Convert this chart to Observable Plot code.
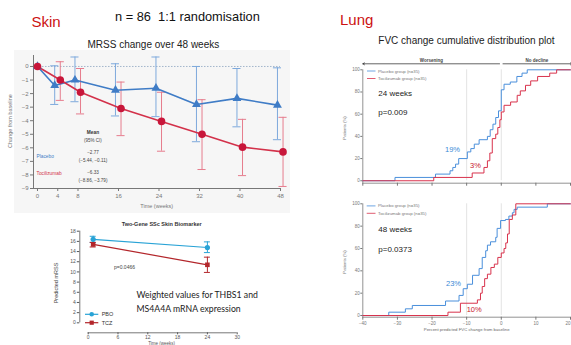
<!DOCTYPE html>
<html><head><meta charset="utf-8">
<script src="https://cdn.jsdelivr.net/npm/d3@7"></script>
<script src="https://cdn.jsdelivr.net/npm/@observablehq/plot@0.6"></script>
<style>
html,body{margin:0;padding:0;background:#fff;}
#page{position:relative;width:571px;height:345px;overflow:hidden;background:#fff;font-family:"Liberation Sans",Arial,sans-serif;}
#page > *{position:absolute;}
</style></head><body><div id="page"></div>
<script>
// ---------------- MRSS change over 48 weeks ----------------
const mrssWeeks   = [0, 4, 8, 16, 24, 32, 40, 48];
const placeboMean = [0, -1.4, -1.0, -1.75, -1.6, -2.8, -2.35, -2.85];
const placeboLow  = [0, -2.8, -2.6, -3.65, -3.7, -5.55, -4.45, -5.4];
const placeboHigh = [0, 0.05, 0.7, 0.2, 0.7, 0.0, -0.15, -0.1];
const tczMean     = [0, -1.0, -1.9, -3.1, -4.05, -5.0, -5.95, -6.3];
const tczLow      = [0, -2.5, -3.5, -5.1, -6.25, -7.6, -8.05, -8.85];
const tczHigh     = [0, 0.35, -0.15, -1.15, -1.9, -2.45, -3.9, -3.75];
const mrssYTicks  = [-9, -8, -7, -6, -5, -4, -3, -2, -1, 0];

// ---------------- Two-gene SSc skin biomarker ----------------
const bioWeeks   = [1, 24];
const pboBioMean = [16.4, 14.8];
const pboBioLow  = [15.8, 13.8];
const pboBioHigh = [17.0, 15.9];
const tczBioMean = [15.4, 11.4];
const tczBioLow  = [14.9, 9.9];
const tczBioHigh = [15.8, 12.9];
const bioXTicks  = [0, 6, 12, 18, 24, 30];
const bioYTicks  = [0, 2, 4, 6, 8, 10, 12, 14, 16, 18];

// ---------------- FVC cumulative distributions ----------------
const cdfXTicks = [-40, -30, -20, -10, 0, 10, 20];
const cdfYTicks = [0, 20, 40, 60, 80, 100];
const refLines  = [-10, 0];
const regionLabels = ["Worsening", "No decline"];
const regionFrom   = [-0.5, 0.5];
const regionTo     = [-40, 20.5];
const regionMid    = [-20.2, 10.3];

const w24PlaceboX = [-40, -30.7, -19.0, -14.8, -14.0, -13.2, -12.3, -9.8, -8.8, -7.8, -6.4, -4.0, -3.2, -2.4, -1.6, -0.8, 0.0, 0.8, 2.6, 4.5, 6.0, 7.5, 20];
const w24PlaceboY = [0, 3, 6, 9, 12, 15, 20, 26, 29, 33, 37, 40, 46, 51, 57, 63, 82, 87, 89, 94, 97, 100, 100];
const w24TczX = [-40, -19.5, -8.4, -5.0, -4.0, -3.3, -2.6, -1.6, -1.0, -0.4, 0.0, 0.8, 2.7, 4.6, 5.5, 7.0, 8.5, 10.5, 14.0, 16.0, 20];
const w24TczY = [0, 3, 7, 12, 18, 25, 38, 42, 48, 55, 62, 68, 71, 77, 81, 86, 90, 94, 97, 100, 100];

const w48PlaceboX = [-40, -32.5, -27.7, -25.7, -16.1, -12.2, -11.0, -9.8, -8.3, -6.4, -5.5, -4.5, -4.0, -3.1, -1.6, -1.2, -0.2, 1.2, 2.2, 3.2, 3.7, 4.6, 13.3, 20];
const w48PlaceboY = [0, 3, 6, 9, 13, 18, 24, 28, 36, 42, 52, 58, 63, 66, 70, 78, 85, 86, 89, 92, 95, 97, 100, 100];
const w48TczX = [-40, -15.4, -11.8, -6.9, -6.0, -5.5, -4.8, -4.0, -3.0, -2.0, -1.0, 0.0, 0.8, 1.3, 1.8, 2.3, 3.2, 4.2, 20];
const w48TczY = [0, 3, 11, 14, 20, 26, 33, 37, 43, 46, 52, 56, 60, 65, 73, 86, 90, 100, 100];

// ---------------- colours ----------------
const BLUE = "#3f7cc6", BLUE_ERR = "#7ea9dc";
const RED = "#d3314a", RED_ERR = "#e67c8d", RED_DOT = "#c8163a";
const PBO = "#29a3d6", TCZ = "#b3262b";
const CDF_BLUE = "#4a8fdb", CDF_RED = "#d8324c";
const FONT = "'Liberation Sans', Arial, sans-serif";

const page = document.getElementById("page");
function place(el, left, top) { el.style.left = left + "px"; el.style.top = top + "px"; page.appendChild(el); return el; }

// light panel behind MRSS chart
const bg = document.createElement("div");
bg.style.cssText = "width:276px;height:163px;background:#f6f6f6;";
place(bg, 14, 50);

// ---------------- MRSS plot ----------------
const mk = (w, m, lo, hi, off) => w.map((week, i) => ({week, x: week === 0 ? 0 : week + off, mean: m[i], lo: lo[i], hi: hi[i]}));
const placebo = mk(mrssWeeks, placeboMean, placeboLow, placeboHigh, -0.6);
const tcz = mk(mrssWeeks, tczMean, tczLow, tczHigh, 0.5);
const withErr = d => d.filter(r => r.lo !== r.hi);
const X0 = -0.79;
const errMarks = (data, color, cap) => [
  Plot.ruleX(withErr(data), {x: "x", y1: "lo", y2: "hi", stroke: color, strokeWidth: 1}),
  Plot.ruleY(withErr(data), {y: "lo", x1: d => d.x - cap, x2: d => d.x + cap, stroke: color, strokeWidth: 1}),
  Plot.ruleY(withErr(data), {y: "hi", x1: d => d.x - cap, x2: d => d.x + cap, stroke: color, strokeWidth: 1})
];
const mrss = Plot.plot({
  width: 290, height: 165, marginLeft: 33, marginRight: 10, marginTop: 5, marginBottom: 27,
  x: {domain: [X0, 48], label: null},
  y: {domain: [-9, 0.81], label: null},
  style: {background: "transparent", fontFamily: FONT, fontSize: "6px", color: "#666", overflow: "visible"},
  marks: [
    Plot.ruleY([0], {stroke: "#8fa6c2", strokeDasharray: "1.5,1.5", strokeWidth: 0.8}),
    Plot.ruleX([X0], {y1: -9, y2: 0.81, stroke: "#777"}),
    Plot.ruleY([-9], {x1: X0, x2: 48, stroke: "#777"}),
    Plot.axisY({ticks: mrssYTicks, tickSize: 3, tickPadding: 2, label: null, color: "#777"}),
    Plot.axisX({ticks: mrssWeeks, tickSize: 3, tickPadding: 2, label: null, color: "#777"}),
    ...errMarks(placebo, BLUE_ERR, 0.8),
    ...errMarks(tcz, RED_ERR, 0.8),
    Plot.line(placebo, {x: "x", y: "mean", stroke: BLUE, strokeWidth: 1.6}),
    Plot.line(tcz, {x: "x", y: "mean", stroke: RED, strokeWidth: 1.6}),
    Plot.dot(placebo, {x: "x", y: "mean", symbol: "triangle", r: 3.3, fill: BLUE}),
    Plot.dot(tcz, {x: "x", y: "mean", r: 3.8, fill: RED_DOT})
  ]
});
place(mrss, 0, 50);

// ---------------- biomarker plot ----------------
const mkB = (w, m, lo, hi) => w.map((week, i) => ({x: week, mean: m[i], lo: lo[i], hi: hi[i]}));
const pboBio = mkB(bioWeeks, pboBioMean, pboBioLow, pboBioHigh);
const tczBio = mkB(bioWeeks, tczBioMean, tczBioLow, tczBioHigh);
const BX0 = -1.69, BY0 = -1.96;
const bio = Plot.plot({
  width: 205, height: 127, marginLeft: 39.3, marginRight: 8.3, marginTop: 12.7, marginBottom: 12.7,
  x: {domain: [BX0, 30], label: null},
  y: {domain: [BY0, 18], label: null},
  style: {background: "transparent", fontFamily: FONT, fontSize: "5px", color: "#555", overflow: "visible"},
  marks: [
    Plot.ruleX([BX0], {y1: 0, y2: 18, stroke: "#555", strokeWidth: 0.8}),
    Plot.ruleY([BY0], {x1: 0, x2: 30, stroke: "#555", strokeWidth: 0.8}),
    Plot.axisY({ticks: bioYTicks, tickSize: 2.5, tickPadding: 1.5, label: null, color: "#555"}),
    Plot.axisX({ticks: bioXTicks, tickSize: 2, tickPadding: 0.8, label: null, color: "#555"}),
    ...errMarks(pboBio, PBO, 0.6),
    ...errMarks(tczBio, TCZ, 0.6),
    Plot.line(pboBio, {x: "x", y: "mean", stroke: PBO, strokeWidth: 1.2}),
    Plot.line(tczBio, {x: "x", y: "mean", stroke: TCZ, strokeWidth: 1.2}),
    Plot.dot(pboBio, {x: "x", y: "mean", r: 2.6, fill: PBO}),
    Plot.dot(tczBio, {x: "x", y: "mean", symbol: "square", r: 2.6, fill: TCZ})
  ]
});
place(bio, 40, 218);

// ---------------- CDF plots ----------------
const pts = (xs, ys) => xs.map((x, i) => ({x, y: ys[i]}));
const regions = regionLabels.map((label, i) => ({label, from: regionFrom[i], to: regionTo[i], mid: regionMid[i]}));
const fmt = d => d === 0 ? "0" : (d < 0 ? "−" : "") + Math.abs(d);
function cdf({placeboX, placeboY, tczX, tczY, yMin, height, marginTop, marginBottom, labels, arrows}) {
  const lastTick = cdfXTicks[cdfXTicks.length - 1];
  return Plot.plot({
    width: 241, height, marginLeft: 32.3, marginRight: 1, marginTop, marginBottom,
    x: {domain: [-40, 20], label: null},
    y: {domain: [yMin, 100], label: null},
    style: {background: "transparent", fontFamily: FONT, fontSize: "4.5px", color: "#666", overflow: "visible"},
    marks: [
      Plot.ruleX(refLines, {y1: 0, y2: 100, stroke: "#dcdcdc", strokeWidth: 0.8}),
      Plot.ruleX([-40], {y1: yMin, y2: 100, stroke: "#777", strokeWidth: 0.8}),
      Plot.ruleY([yMin], {stroke: "#777", strokeWidth: 0.8}),
      Plot.axisY({ticks: cdfYTicks, tickSize: 2, tickPadding: 1, label: null, color: "#777"}),
      Plot.axisX({ticks: cdfXTicks.slice(0, -1), tickSize: 3, tickPadding: 1.5, label: null, color: "#777",
        tickFormat: labels ? fmt : () => ""}),
      Plot.axisX({ticks: [lastTick], tickSize: 3, tickPadding: 1.5, label: null, color: "#777", textAnchor: "end",
        tickFormat: labels ? fmt : () => ""}),
      ...(arrows ? [
        Plot.arrow(regions, {x1: "from", x2: "to", y1: 105.4, y2: 105.4, stroke: "#222", strokeWidth: 0.7, headLength: 4}),
        Plot.text(regions, {x: "mid", y: 108.6, text: "label", fill: "#444", fontWeight: "bold", fontSize: 4.5})
      ] : []),
      Plot.line(pts(placeboX, placeboY), {x: "x", y: "y", curve: "step-after", stroke: CDF_BLUE, strokeWidth: 1}),
      Plot.line(pts(tczX, tczY), {x: "x", y: "y", curve: "step-after", stroke: CDF_RED, strokeWidth: 1})
    ]
  });
}
place(cdf({placeboX: w24PlaceboX, placeboY: w24PlaceboY, tczX: w24TczX, tczY: w24TczY,
  yMin: -2.2, height: 140, marginTop: 13.3, marginBottom: 13.3, labels: false, arrows: true}), 330, 56);
place(cdf({placeboX: w48PlaceboX, placeboY: w48PlaceboY, tczX: w48TczX, tczY: w48TczY,
  yMin: -1.5, height: 150, marginTop: 8.3, marginBottom: 28.3, labels: true, arrows: false}), 330, 195);

// ---------------- text overlay ----------------
const LATO = "Lato, 'Liberation Sans', sans-serif";
const texts = [
  // [x, y, text, size, fill, anchor, weight, rotate, family]
  [31.5, 26.5, "Skin", 15, "#cc1111", "start"],
  [115, 21, "n = 86\u00a0\u00a01:1 randomisation", 12.8, "#111", "start"],
  [87.5, 47.5, "MRSS change over 48 weeks", 10, "#222", "start"],
  [12, 121, "Change from baseline", 5.5, "#777", "middle", "normal", -90],
  [156.7, 208, "Time (weeks)", 5.5, "#777", "middle"],
  [93, 134, "Mean", 4.8, "#333", "middle", "bold"],
  [93, 142, "(95% CI)", 4.5, "#444", "middle"],
  [36.5, 158.3, "Placebo", 4.8, BLUE, "start"],
  [93, 154.3, "−2.77", 4.6, "#444", "middle"],
  [93, 162, "(−5.44, −0.11)", 4.6, "#444", "middle"],
  [36.5, 175, "Tocilizumab", 4.8, RED, "start"],
  [93, 174, "−6.33", 4.6, "#444", "middle"],
  [93, 182, "(−8.86, −3.79)", 4.6, "#444", "middle"],
  [161.7, 226, "Two-Gene SSc Skin Biomarker", 5.5, "#333", "middle", "bold"],
  [57.5, 283, "Predicted mRSS", 5.5, "#444", "middle", "normal", -90],
  [114, 269, "p=0.0466", 5, "#444", "start"],
  [136.5, 298.3, "Weighted values for THBS1 and", 8.7, "#222", "start", "normal", 0, LATO],
  [136.5, 312, "MS4A4A mRNA expression", 8.7, "#222", "start", "normal", 0, LATO],
  [101.7, 316.2, "PBO", 5.5, "#333", "start"],
  [101.7, 324.6, "TCZ", 5.5, "#333", "start"],
  [161.7, 344.6, "Time (weeks)", 4.5, "#555", "middle"],
  [340, 25, "Lung", 15, "#cc1111", "start"],
  [378.3, 44.3, "FVC change cumulative distribution plot", 10, "#222", "start"],
  [346, 128, "Patients (%)", 4.3, "#777", "middle", "normal", -90],
  [346, 262, "Patients (%)", 4.3, "#777", "middle", "normal", -90],
  [378, 72.6, "Placebo group (n=35)", 4.3, "#777", "start"],
  [378, 80, "Tocilizumab group (n=35)", 4.3, "#777", "start"],
  [378, 207.4, "Placebo group (n=35)", 4.3, "#777", "start"],
  [378, 214.8, "Tocilizumab group (n=35)", 4.3, "#777", "start"],
  [378.3, 96, "24 weeks", 8, "#222", "start"],
  [378.3, 115, "p=0.009", 8, "#222", "start"],
  [445, 151.7, "19%", 7.5, "#3a8ad6", "start"],
  [470, 167.7, "3%", 7.5, "#c8202c", "start"],
  [378.3, 232.3, "48 weeks", 8, "#222", "start"],
  [378.3, 251.7, "p=0.0373", 8, "#222", "start"],
  [446, 285.7, "23%", 7.5, "#3a8ad6", "start"],
  [466.7, 311.7, "10%", 7.5, "#c8202c", "start"],
  [466.7, 330.5, "Percent predicted FVC change from baseline", 4.3, "#666", "middle"]
];
const NS = "http://www.w3.org/2000/svg";
const ov = document.createElementNS(NS, "svg");
ov.setAttribute("width", 571); ov.setAttribute("height", 345);
ov.style.pointerEvents = "none";
for (const [x, y, s, size, fill, anchor, weight, rot, fam] of texts) {
  const t = document.createElementNS(NS, "text");
  t.setAttribute("x", x); t.setAttribute("y", y);
  t.setAttribute("font-size", size); t.setAttribute("fill", fill);
  t.setAttribute("text-anchor", anchor || "start");
  t.setAttribute("font-family", fam || FONT);
  if (weight) t.setAttribute("font-weight", weight);
  if (rot) t.setAttribute("transform", `rotate(${rot} ${x} ${y})`);
  t.textContent = s;
  ov.appendChild(t);
}
// legend swatches
const sw = [
  [85, 314.3, 98.3, PBO, 1.2], [85, 322.7, 98.3, TCZ, 1.2],
  [367, 71, 375.5, CDF_BLUE, 0.8], [367, 78.5, 375.5, CDF_RED, 0.8],
  [366.7, 205.9, 375.5, CDF_BLUE, 0.8], [366.7, 213.3, 375.5, CDF_RED, 0.8]
];
for (const [x1, y, x2, c, w] of sw) {
  const l = document.createElementNS(NS, "line");
  l.setAttribute("x1", x1); l.setAttribute("x2", x2); l.setAttribute("y1", y); l.setAttribute("y2", y);
  l.setAttribute("stroke", c); l.setAttribute("stroke-width", w);
  ov.appendChild(l);
}
const c1 = document.createElementNS(NS, "circle");
c1.setAttribute("cx", 91.7); c1.setAttribute("cy", 314.3); c1.setAttribute("r", 2.3); c1.setAttribute("fill", PBO);
ov.appendChild(c1);
const r1 = document.createElementNS(NS, "rect");
r1.setAttribute("x", 89.6); r1.setAttribute("y", 320.6); r1.setAttribute("width", 4.2); r1.setAttribute("height", 4.2); r1.setAttribute("fill", TCZ);
ov.appendChild(r1);
place(ov, 0, 0);
</script>
</body></html>
